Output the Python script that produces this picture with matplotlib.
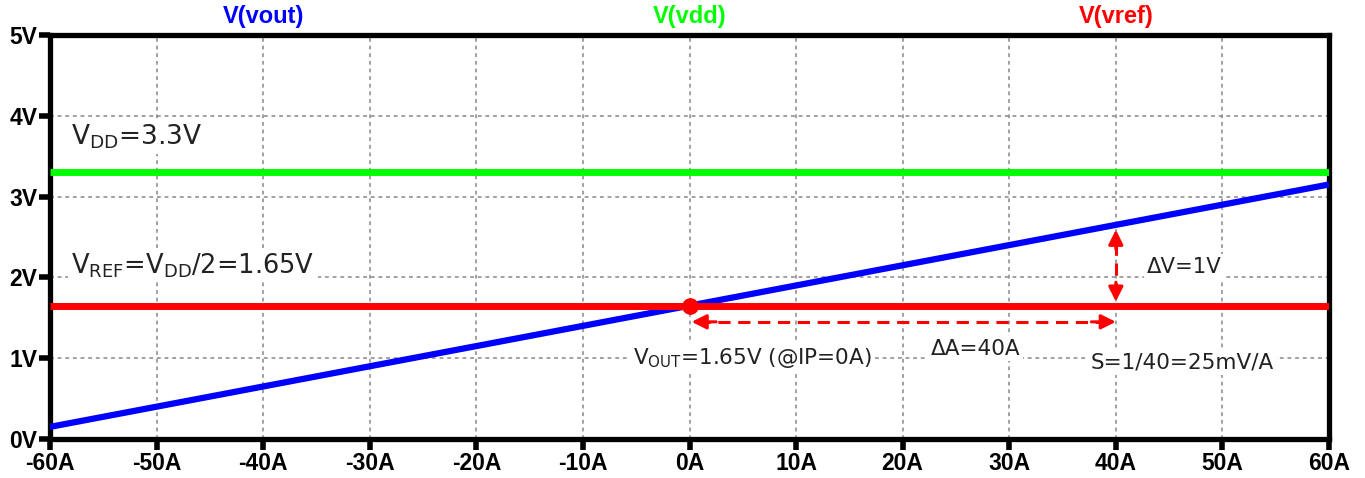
import matplotlib
matplotlib.use("Agg")
import matplotlib.pyplot as plt

# sweep current (A) and node voltages (V)
ip = [-60, -40, -20, 0, 20, 40, 60]
v_out = [0.15, 0.65, 1.15, 1.65, 2.15, 2.65, 3.15]
v_dd = [3.3] * len(ip)
v_ref = [1.65] * len(ip)

x_ticks = [-60, -50, -40, -30, -20, -10, 0, 10, 20, 30, 40, 50, 60]
x_tick_labels = [f"{t}A" for t in x_ticks]
y_ticks = [0, 1, 2, 3, 4, 5]
y_tick_labels = [f"{t}V" for t in y_ticks]

trace_names = ["V(vout)", "V(vdd)", "V(vref)"]
trace_colors = ["#0000ff", "#00ff00", "#ff0000"]

plt.rcParams["font.family"] = ["DejaVu Sans"]

fig = plt.figure(figsize=(13.65, 4.78), dpi=100)
ax = fig.add_axes([50 / 1365, 39 / 478, 1279 / 1365, 404 / 478])

ax.plot(ip, v_out, color=trace_colors[0], lw=4.5, solid_capstyle="butt", zorder=4)
ax.plot(ip, v_dd, color=trace_colors[1], lw=5, solid_capstyle="butt", zorder=4)
ax.plot(ip, v_ref, color=trace_colors[2], lw=5, solid_capstyle="butt", zorder=5)
ax.plot([0], [1.65], "o", color="red", ms=11, zorder=6)

ax.set_xlim(-60, 60)
ax.set_ylim(0, 5)
ax.set_xticks(x_ticks, x_tick_labels)
ax.set_yticks(y_ticks, y_tick_labels)
ax.tick_params(axis="both", direction="out", length=8, width=4, color="black",
               labelsize=16.5, pad=1)
for lab in ax.get_xticklabels() + ax.get_yticklabels():
    lab.set_fontfamily("Liberation Sans")
    lab.set_fontweight("bold")
ax.grid(True, color="#888888", lw=1.1, linestyle=(0, (2.5, 2.5)))
ax.set_axisbelow(True)
for sp in ax.spines.values():
    sp.set_linewidth(3.8)
    sp.set_color("black")

# trace names above the plot
for i, (name, col) in enumerate(zip(trace_names, trace_colors)):
    ax.text((2 * i + 1) / 6, 1.045, name, transform=ax.transAxes, color=col,
            fontsize=17, fontweight="bold", family="Liberation Sans",
            ha="center", va="center")

box = dict(facecolor="white", edgecolor="none", pad=2)

ax.text(-58.0, 3.74, r"V$_\mathregular{DD}$=3.3V", fontsize=19, ha="left", va="center",
        color="#222222", bbox=box, zorder=3)
ax.text(-58.0, 2.15, r"V$_\mathregular{REF}$=V$_\mathregular{DD}$/2=1.65V", fontsize=18.5,
        ha="left", va="center", color="#222222", bbox=box, zorder=3)
ax.text(-5.3, 1.0, r"V$_\mathregular{OUT}$=1.65V (@IP=0A)", fontsize=15.5, ha="left",
        va="center", color="#222222", bbox=box, zorder=3)
ax.text(26.8, 1.12, "ΔA=40A", fontsize=15.5, ha="center", va="center",
        color="#222222", bbox=box, zorder=3)
ax.text(46.4, 2.13, "ΔV=1V", fontsize=15.2, ha="center", va="center",
        color="#222222", bbox=box, zorder=3)
ax.text(46.2, 0.95, "S=1/40=25mV/A", fontsize=15.5, ha="center", va="center",
        color="#222222", bbox=box, zorder=3)

# dashed dimension arrows
dash = (0, (4, 2.5))
ax.plot([0.8, 39.2], [1.45, 1.45], color="red", lw=2.2, linestyle=dash, zorder=5)
ax.plot([40, 40], [1.78, 2.50], color="red", lw=2.2, linestyle=dash, zorder=5)
head = dict(arrowstyle="-|>", color="red", lw=2.2, mutation_scale=22, shrinkA=0, shrinkB=0)
ax.annotate("", xy=(0.2, 1.45), xytext=(2.5, 1.45), arrowprops=head, zorder=6)
ax.annotate("", xy=(40, 1.45), xytext=(37.7, 1.45), arrowprops=head, zorder=6)
ax.annotate("", xy=(40, 2.59), xytext=(40, 2.35), arrowprops=head, zorder=6)
ax.annotate("", xy=(40, 1.70), xytext=(40, 1.94), arrowprops=head, zorder=6)

fig.savefig("out.png", dpi=100)
